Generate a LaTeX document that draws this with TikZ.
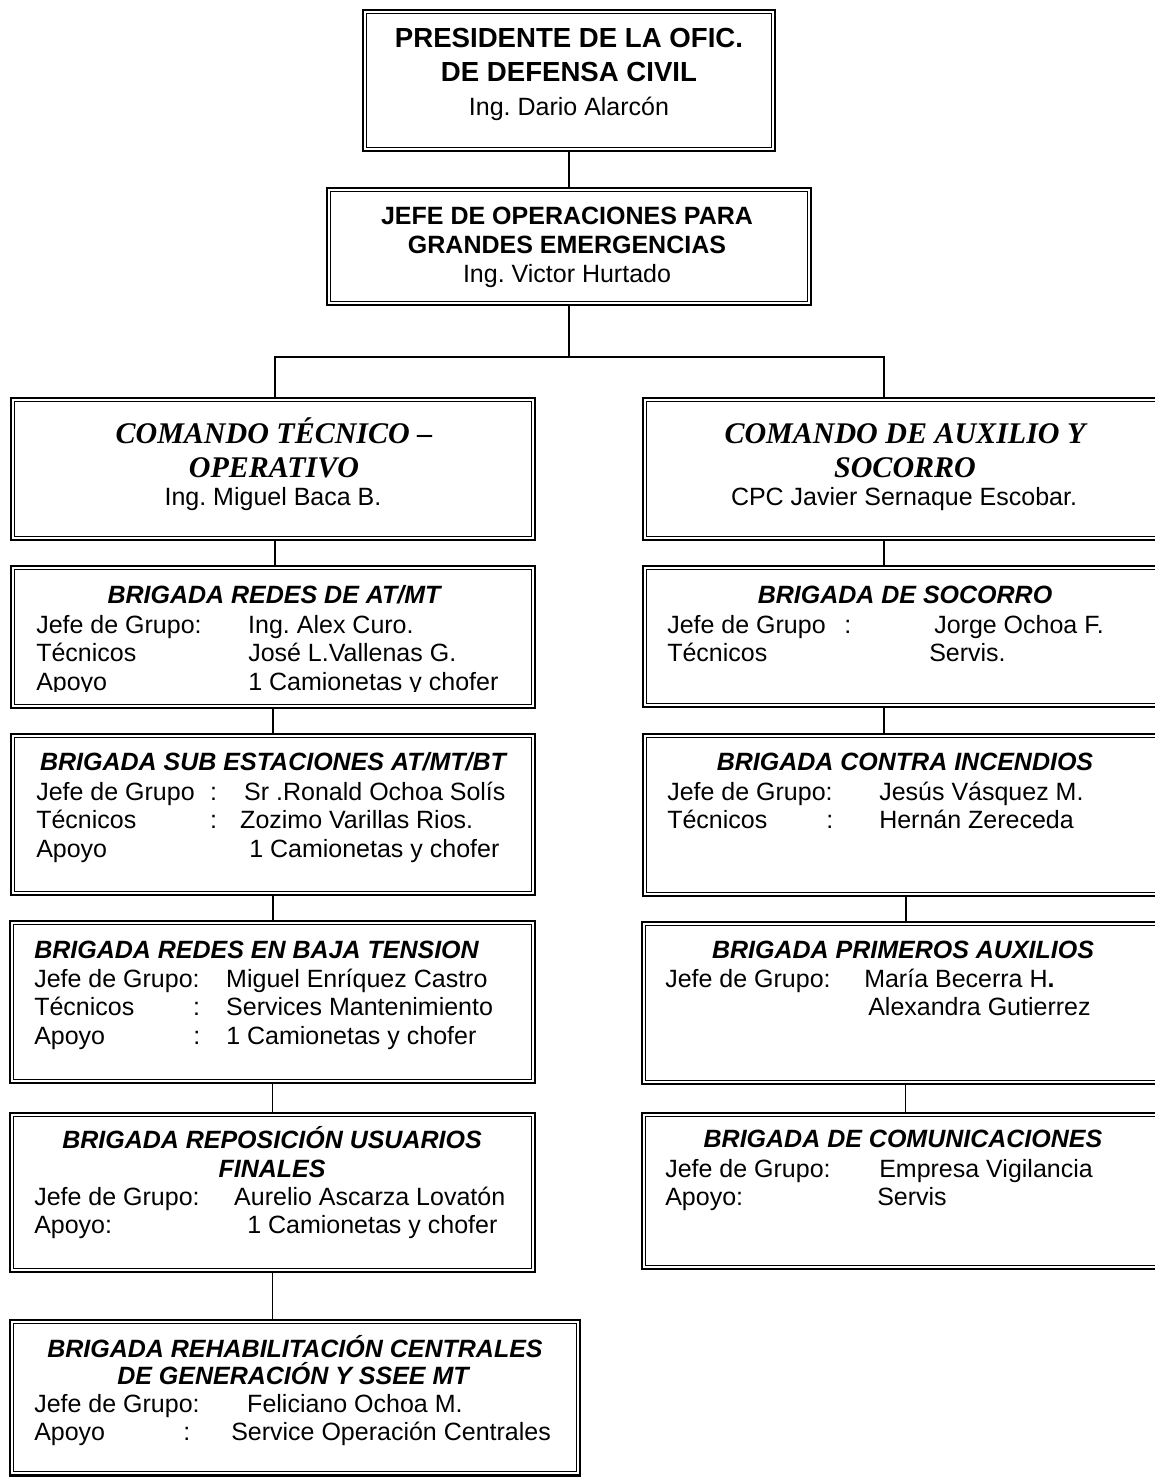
\documentclass[tikz,border=0pt]{standalone}
\usepackage{fontspec}
\setmainfont{Liberation Sans}
\newfontfamily\tnr{Liberation Serif}
\frenchspacing
\tikzstyle{B} = [rectangle, draw, line width=2pt, inner sep=0pt,
			path picture={\draw[line width=0.9pt]
			([shift={(2.8pt,-2.8pt)}]path picture bounding box.north west) rectangle
			([shift={(-2.8pt,2.8pt)}]path picture bounding box.south east);}]
\tikzstyle{L} = [draw, line width=1pt]
\tikzstyle{K} = [inner sep=0pt, anchor=base,
			font=\fontsize{20.7}{24}\selectfont\bfseries]
\tikzstyle{J} = [inner sep=0pt, anchor=base,
			font=\fontsize{18.75}{21.4}\selectfont\bfseries]
\tikzstyle{N} = [inner sep=0pt, anchor=base,
			font=\fontsize{18.75}{21.4}\selectfont]
\tikzstyle{M} = [inner sep=0pt, anchor=base,
			font=\fontsize{22.5}{25}\selectfont\tnr\bfseries\itshape]
\tikzstyle{H} = [inner sep=0pt, anchor=base,
			font=\fontsize{18.75}{21.4}\selectfont\bfseries\itshape]
\tikzstyle{P} = [inner sep=0pt, anchor=base west,
			font=\fontsize{18.75}{21.4}\selectfont]

\begin{document}
\begin{tikzpicture}[x=0.75pt, y=-0.75pt]

\useasboundingbox[fill=white] (0,0) rectangle (1154,1477);

% recuadros
\node [B, minimum width=412*0.75pt, minimum height=141*0.75pt] (pre) at (569,80.5) {};
\node [B, minimum width=484*0.75pt, minimum height=117*0.75pt] (jef) at (569,246.5) {};
\node [B, minimum width=524*0.75pt, minimum height=142*0.75pt] (cto) at (273,469) {};
\node [B, minimum width=526*0.75pt, minimum height=142*0.75pt] (cas) at (906,469) {};
\node [B, minimum width=524*0.75pt, minimum height=142*0.75pt] (b1) at (273,637) {};
\node [B, minimum width=524*0.75pt, minimum height=161*0.75pt] (b2) at (273,814.5) {};
\node [B, minimum width=525*0.75pt, minimum height=162*0.75pt] (b3) at (272.5,1002) {};
\node [B, minimum width=525*0.75pt, minimum height=159*0.75pt] (b4) at (272.5,1192.5) {};
\node [B, minimum width=570*0.75pt, minimum height=155.5*0.75pt] (b5) at (295,1397.75) {};
\node [B, minimum width=526*0.75pt, minimum height=141*0.75pt] (s1) at (906,636.5) {};
\node [B, minimum width=526*0.75pt, minimum height=162*0.75pt] (s2) at (906,815) {};
\node [B, minimum width=527*0.75pt, minimum height=162*0.75pt] (s3) at (905.5,1003) {};
\node [B, minimum width=527*0.75pt, minimum height=156*0.75pt] (s4) at (905.5,1191) {};

% textos
\node [K] (pre1) at (569,48) {PRESIDENTE DE LA OFIC.};
\node [K] (pre2) at (569,82) {DE DEFENSA CIVIL};
\node [N] (pre3) at (569,115) {Ing. Dario Alarcón};

\node [J] (jef1) at (567,224) {JEFE DE OPERACIONES PARA};
\node [J] (jef2) at (567,253) {GRANDES EMERGENCIAS};
\node [N] (jef3) at (567,282) {Ing. Victor Hurtado};

\node [M] (cto1) at (274,443) {COMANDO TÉCNICO –};
\node [M] (cto2) at (274,477) {OPERATIVO};
\node [N] (cto3) at (273,505) {Ing. Miguel Baca B.};

\node [M] (cas1) at (905,443) {COMANDO DE AUXILIO Y};
\node [M] (cas2) at (905,477) {SOCORRO};
\node [N] (cas3) at (904,505) {CPC Javier Sernaque Escobar.};

\node [H] (b1h) at (274,603) {BRIGADA REDES DE AT/MT};
\begin{scope}
\clip (b1.north west) rectangle (b1.east |- 0,691);
\node [P] (b1t) at (36,633)
	{\begin{tabular}[t]{@{}p{159pt}@{}l@{}}
	Jefe de Grupo: & Ing. Alex Curo.\\
	Técnicos & José L.Vallenas G.\\
	Apoyo & 1 Camionetas y chofer
	\end{tabular}};
\end{scope}

\node [H] (b2h) at (273,770) {BRIGADA SUB ESTACIONES AT/MT/BT};
\node [P] (b2t) at (36,800)
	{\begin{tabular}[t]{@{}p{130.5pt}@{}p{25.5pt}@{}l@{}}
	Jefe de Grupo & : & Sr .Ronald Ochoa Solís\\
	Técnicos & : & \hspace{-3pt}Zozimo Varillas Rios.\\
	Apoyo & & \hspace{3.75pt}1 Camionetas y chofer
	\end{tabular}};

\node [H, anchor=base west] (b3h) at (34,958) {BRIGADA REDES EN BAJA TENSION};
\node [P] (b3t) at (34,987)
	{\begin{tabular}[t]{@{}p{119.25pt}@{}p{24.75pt}@{}l@{}}
	\makebox[0pt][l]{Jefe de Grupo:} & & Miguel Enríquez Castro\\
	Técnicos & : & Services Mantenimiento\\
	Apoyo & : & 1 Camionetas y chofer
	\end{tabular}};

\node [H] (b4h) at (272,1148) {BRIGADA REPOSICIÓN USUARIOS};
\node [H] (b4i) at (272,1177) {FINALES};
\node [P] (b4t) at (34,1205)
	{\begin{tabular}[t]{@{}p{150pt}@{}l@{}}
	Jefe de Grupo: & Aurelio Ascarza Lovatón\\
	Apoyo: & \hspace{9.75pt}1 Camionetas y chofer
	\end{tabular}};

\node [H] (b5h) at (295,1357) {BRIGADA REHABILITACIÓN CENTRALES};
\node [H] (b5i) at (293,1384) {DE GENERACIÓN Y SSEE MT};
\node [P] (b5t) at (34,1412)
	{\begin{tabular}[t]{@{}p{111.75pt}@{}p{36pt}@{}l@{}}
	\makebox[0pt][l]{Jefe de Grupo:} & & \hspace{12pt}Feliciano Ochoa M.\\
	Apoyo & : & Service Operación Centrales
	\end{tabular}};

\node [H] (s1h) at (905,603) {BRIGADA DE SOCORRO};
\node [P] (s1t) at (667,633)
	{\begin{tabular}[t]{@{}p{132.75pt}@{}p{67.5pt}@{}l@{}}
	Jefe de Grupo & : & Jorge Ochoa F.\\
	Técnicos & & \hspace{-3.75pt}Servis.
	\end{tabular}};

\node [H] (s2h) at (905,770) {BRIGADA CONTRA INCENDIOS};
\node [P] (s2t) at (667,800)
	{\begin{tabular}[t]{@{}p{119.25pt}@{}p{39.75pt}@{}l@{}}
	\makebox[0pt][l]{Jefe de Grupo:} & & Jesús Vásquez M.\\
	Técnicos & : & Hernán Zereceda
	\end{tabular}};

\node [H] (s3h) at (903,958) {BRIGADA PRIMEROS AUXILIOS};
\node [P] (s3t) at (665,987)
	{\begin{tabular}[t]{@{}p{149.25pt}@{}l@{}}
	Jefe de Grupo: & María Becerra H\textbf{.}\\
	& \hspace{3pt}Alexandra Gutierrez
	\end{tabular}};

\node [H] (s4h) at (903,1147) {BRIGADA DE COMUNICACIONES};
\node [P] (s4t) at (665,1177)
	{\begin{tabular}[t]{@{}p{160.5pt}@{}l@{}}
	Jefe de Grupo: & Empresa Vigilancia\\
	Apoyo: & \hspace{-1.5pt}Servis
	\end{tabular}};

% conectores
\coordinate (hl) at (275,357);
\coordinate (hr) at (884,357);

\path[L] (pre) -- (jef);

\path[L] (jef.south) -- (jef.south |- hl);

\path[L] (cto.north -| hl) |- (hr) -- (cas.north -| hr);

\path[L] (cto.south -| hl) -- (b1.north -| hl);

\path[L] (b1) -- (b2);

\path[L] (b2.south) -- (b2.south |- b3.north);

\path[L] (b3.south) -- (b3.south |- b4.north);

\path[L] (b4.south) -- (b4.south |- b5.north);

\path[L] (cas.south -| hr) -- (s1.north -| hr);

\path[L] (s1.south -| hr) -- (s2.north -| hr);

\path[L] (s2.south) -- (s2.south |- s3.north);

\path[L] (s3.south) -- (s3.south |- s4.north);

\end{tikzpicture}
\end{document}
